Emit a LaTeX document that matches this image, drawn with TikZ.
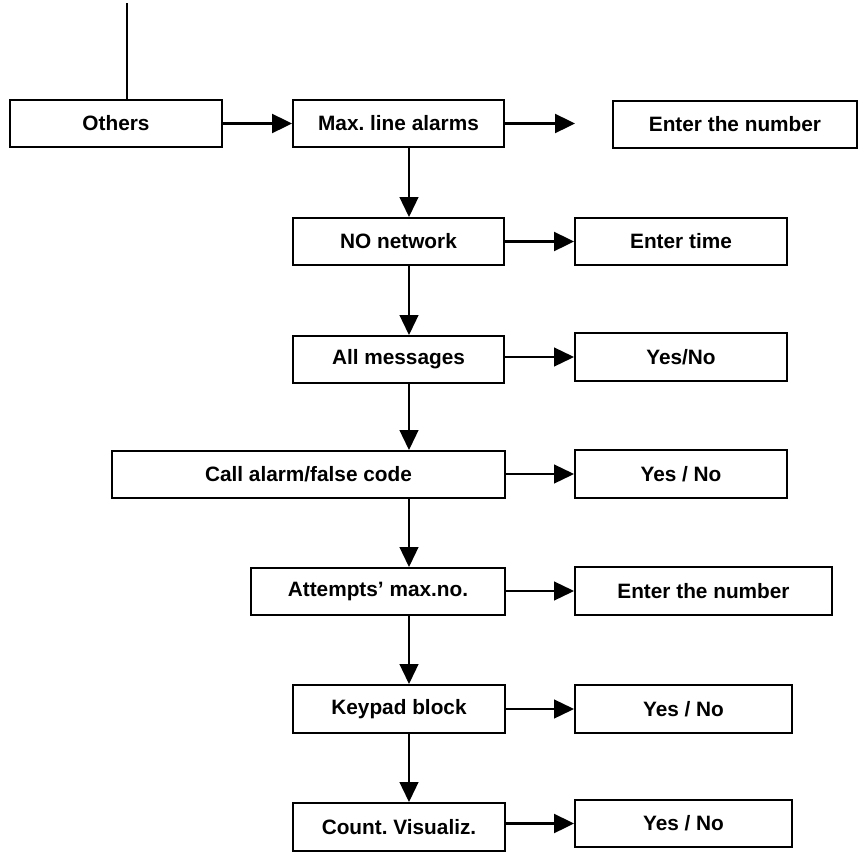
\documentclass[tikz,border=0pt]{standalone}
\usepackage{fontspec}
\setmainfont{Liberation Sans}
\usetikzlibrary{arrows.meta}
\frenchspacing

\tikzset{
  menubox/.style={draw, line width=2pt, inner sep=0pt, minimum height=47pt,
    font=\fontsize{20.8}{24}\selectfont\bfseries},
  arr/.style={-{Triangle[length=20pt, width=19pt]}, line width=1.3pt},
  arrthick/.style={arr, line width=2.4pt}
}

\begin{document}
\begin{tikzpicture}[x=1pt, y=-1pt]
    \useasboundingbox (0, 0) rectangle (860, 854);

    % Helper coordinates
    \coordinate (top) at (127, 3);
    \coordinate (spine) at (409, 0);
    \coordinate (rcol) at (575, 0);

    % Main column
    \node[menubox, minimum width=212pt] (others) at (116, 123.5) {Others};
    \node[menubox, minimum width=211pt] (maxalarm) at (398.5, 123.5) {Max. line alarms};
    \node[menubox, minimum width=211pt] (nonet) at (398.5, 241.5) {NO network};
    \node[menubox, minimum width=211pt] (allmsg) at (398.5, 359.5) {All messages};
    \node[menubox, minimum width=393pt] (callalarm) at (308.5, 474.5) {Call alarm/false code};
    \node[menubox, minimum width=254pt] (attempts) at (378, 591.5) {Attempts’ max.no.};
    \node[menubox, minimum width=212pt, minimum height=48pt] (keypad) at (399, 709) {Keypad block};
    \node[menubox, minimum width=212pt, minimum height=48pt] (countvis) at (399, 827) {Count. Visualiz.};

    % Side boxes
    \node[menubox, minimum width=244pt] (enternumA) at (735, 124.5) {Enter the number};
    \node[menubox, minimum width=212pt] (entertime) at (681, 241.5) {Enter time};
    \node[menubox, minimum width=212pt, minimum height=48pt] (yesnoA) at (681, 357) {Yes/No};
    \node[menubox, minimum width=212pt, minimum height=48pt] (yesnoB) at (681, 474) {Yes / No};
    \node[menubox, minimum width=257pt, minimum height=48pt] (enternumB) at (703.5, 591) {Enter the number};
    \node[menubox, minimum width=217pt, minimum height=48pt] (yesnoC) at (683.5, 709) {Yes / No};
    \node[menubox, minimum width=217pt] (yesnoD) at (683.5, 823.5) {Yes / No};

    % Entry line
    \draw[line width=1.3pt] (top) -- (others.north -| top);

    % Down arrows
    \draw[arr] (maxalarm.south -| spine) -- (nonet.north -| spine);
    \draw[arr] (nonet.south -| spine) -- (allmsg.north -| spine);
    \draw[arr] (allmsg.south -| spine) -- (callalarm.north -| spine);
    \draw[arr] (callalarm.south -| spine) -- (attempts.north -| spine);
    \draw[arr] (attempts.south -| spine) -- (keypad.north -| spine);
    \draw[arr] (keypad.south -| spine) -- (countvis.north -| spine);

    % Side arrows
    \draw[arrthick] (others.east) -- (maxalarm.west);
    \draw[arrthick] (maxalarm.east) -- (maxalarm.east -| rcol);
    \draw[arrthick] (nonet.east) -- (entertime.west |- nonet.east);
    \draw[arr] (yesnoA.west -| allmsg.east) -- (yesnoA.west);
    \draw[arr] (yesnoB.west -| callalarm.east) -- (yesnoB.west);
    \draw[arr] (enternumB.west -| attempts.east) -- (enternumB.west);
    \draw[arr] (keypad.east) -- (yesnoC.west);
    \draw[arrthick] (yesnoD.west -| countvis.east) -- (yesnoD.west);
\end{tikzpicture}
\end{document}
